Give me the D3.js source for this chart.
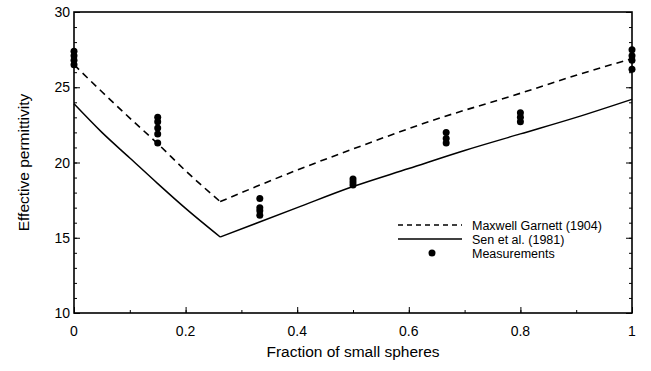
<!DOCTYPE html>
<html lang="en">
<head>
<meta charset="utf-8">
<script src="https://d3js.org/d3.v7.min.js"></script>
<style>
  body { margin: 0; background: white; }
  svg { display: block; font-family: "Liberation Sans", Arial, Helvetica, sans-serif; }
</style>
</head>
<body>
<svg id="chart" width="651" height="371"></svg>
<script>
// Maxwell Garnett (1904) curve
var mgX = [0, 0.05, 0.1, 0.15, 0.2, 0.262, 0.333, 0.4, 0.5, 0.643, 0.8, 0.9, 1];
var mgY = [26.5, 24.7, 22.95, 21.25, 19.45, 17.4, 18.5, 19.5, 20.9, 22.8, 24.6, 25.8, 26.9];
// Sen et al. (1981) curve
var senX = [0, 0.05, 0.1, 0.15, 0.2, 0.262, 0.4, 0.5, 0.6, 0.7, 0.8, 0.9, 1];
var senY = [23.9, 22.0, 20.3, 18.6, 16.95, 15.05, 17.0, 18.4, 19.6, 20.8, 21.9, 23.0, 24.2];
// measurements: fraction and measured values
var measFrac = [0, 0, 0, 0, 0.15, 0.15, 0.15, 0.15, 0.15, 0.333, 0.333, 0.333, 0.333,
                0.5, 0.5, 0.5, 0.667, 0.667, 0.667, 0.8, 0.8, 0.8, 1, 1, 1, 1];
var measVal = [27.4, 27.1, 26.8, 26.5, 23.0, 22.7, 22.3, 21.9, 21.3, 17.6, 17.0, 16.8, 16.5,
               18.9, 18.7, 18.5, 22.0, 21.6, 21.3, 23.3, 23.0, 22.7, 27.5, 27.1, 26.8, 26.2];
var xTicks = [0, 0.2, 0.4, 0.6, 0.8, 1];
var yTicks = [10, 15, 20, 25, 30];

var svg = d3.select("#chart");
var pLeft = 74, pRight = 632, pTop = 12, pBottom = 313;

var x = d3.scaleLinear().domain([0, 1]).range([pLeft, pRight]);
var y = d3.scaleLinear().domain([10, 30]).range([pBottom, pTop]);

// minor ticks
var yMinor = d3.range(10, 31, 1);
var xMinor = d3.range(0, 1.001, 0.1);

function noDomain(g) { g.select(".domain").remove(); }

svg.append("g")
  .attr("transform", "translate(" + pLeft + ",0)")
  .call(d3.axisRight(y).tickValues(yMinor).tickSize(3).tickFormat(""))
  .call(noDomain);
svg.append("g")
  .attr("transform", "translate(" + pRight + ",0)")
  .call(d3.axisLeft(y).tickValues(yMinor).tickSize(3).tickFormat(""))
  .call(noDomain);
svg.append("g")
  .attr("transform", "translate(" + pLeft + ",0)")
  .call(d3.axisRight(y).tickValues(yTicks).tickSize(6).tickFormat(""))
  .call(noDomain);
svg.append("g")
  .attr("transform", "translate(" + pRight + ",0)")
  .call(d3.axisLeft(y).tickValues(yTicks).tickSize(6).tickFormat(""))
  .call(noDomain);
svg.append("g")
  .attr("transform", "translate(0," + pBottom + ")")
  .call(d3.axisTop(x).tickValues(xMinor).tickSize(3).tickFormat(""))
  .call(noDomain);
svg.append("g")
  .attr("transform", "translate(0," + pBottom + ")")
  .call(d3.axisTop(x).tickValues(xTicks).tickSize(6).tickFormat(""))
  .call(noDomain);

// frame
svg.append("rect")
  .attr("x", pLeft).attr("y", pTop)
  .attr("width", pRight - pLeft).attr("height", pBottom - pTop)
  .attr("fill", "none").attr("stroke", "#000").attr("stroke-width", 1.6);

// tick labels
svg.append("g").selectAll("text")
  .data(yTicks).enter().append("text")
  .attr("x", pLeft - 4).attr("y", d => y(d) + 5)
  .attr("text-anchor", "end")
  .attr("font-size", 14)
  .text(d => d);
svg.append("g").selectAll("text")
  .data(xTicks).enter().append("text")
  .attr("x", d => x(d)).attr("y", pBottom + 23)
  .attr("text-anchor", "middle")
  .attr("font-size", 14)
  .text(d => d);

// axis titles
svg.append("text")
  .attr("transform", "translate(29," + ((pTop + pBottom) / 2) + ") rotate(-90)")
  .attr("text-anchor", "middle")
  .attr("font-size", 15.5)
  .text("Effective permittivity");
svg.append("text")
  .attr("x", (pLeft + pRight) / 2).attr("y", 357)
  .attr("text-anchor", "middle")
  .attr("font-size", 15.5)
  .text("Fraction of small spheres");

var line = d3.line().x(d => x(d[0])).y(d => y(d[1])).curve(d3.curveMonotoneX);
var mgLeft = d3.zip(mgX, mgY).filter(d => d[0] <= 0.262);
var mgRight = d3.zip(mgX, mgY).filter(d => d[0] >= 0.262);
var senLeft = d3.zip(senX, senY).filter(d => d[0] <= 0.262);
var senRight = d3.zip(senX, senY).filter(d => d[0] >= 0.262);

[mgLeft, mgRight].forEach(function (seg) {
  svg.append("path").datum(seg)
    .attr("d", line).attr("fill", "none")
    .attr("stroke", "#000").attr("stroke-width", 1.6)
    .attr("stroke-dasharray", "7,5");
});
[senLeft, senRight].forEach(function (seg) {
  svg.append("path").datum(seg)
    .attr("d", line).attr("fill", "none")
    .attr("stroke", "#000").attr("stroke-width", 1.5);
});

svg.append("g").selectAll("circle")
  .data(d3.zip(measFrac, measVal)).enter().append("circle")
  .attr("cx", d => x(d[0])).attr("cy", d => y(d[1]))
  .attr("r", 3.5).attr("fill", "#000");

// legend
var lg = svg.append("g");
lg.append("line").attr("x1", 398).attr("x2", 462).attr("y1", 225).attr("y2", 225)
  .attr("stroke", "#000").attr("stroke-width", 1.3).attr("stroke-dasharray", "5,4");
lg.append("line").attr("x1", 398).attr("x2", 462).attr("y1", 239).attr("y2", 239)
  .attr("stroke", "#000").attr("stroke-width", 1.3);
lg.append("circle").attr("cx", 432).attr("cy", 253).attr("r", 3.5).attr("fill", "#000");
var legendText = ["Maxwell Garnett (1904)", "Sen et al. (1981)", "Measurements"];
lg.selectAll("text").data(legendText).enter().append("text")
  .attr("x", 472).attr("y", (d, i) => 230 + i * 14)
  .attr("font-size", 12.5)
  .text(d => d);
</script>
</body>
</html>
